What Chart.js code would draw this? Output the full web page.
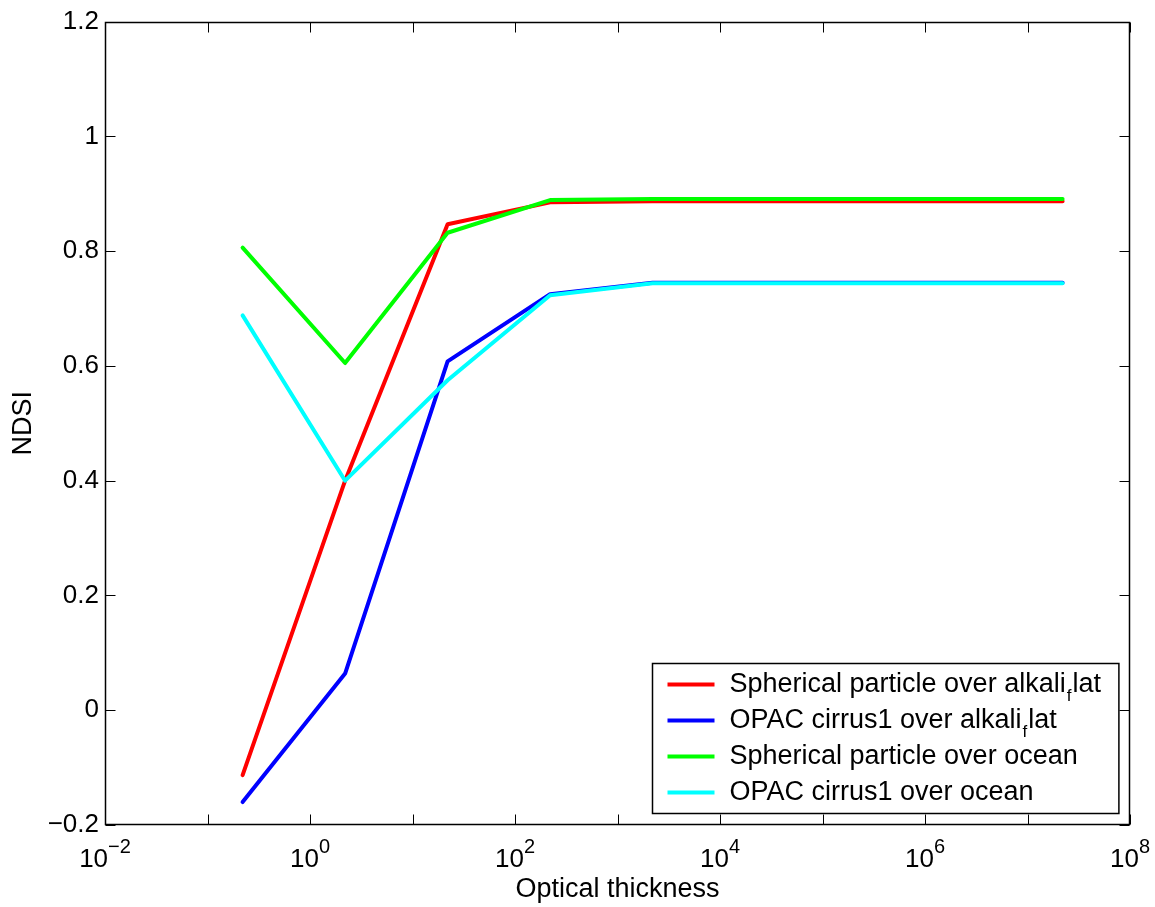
<!DOCTYPE html>
<html>
<head>
<meta charset="utf-8">
<script src="https://cdn.jsdelivr.net/npm/chart.js@4/dist/chart.umd.min.js"></script>
<style>
  html, body { margin: 0; padding: 0; background: #fff; }
  #wrap { width: 1155px; height: 907px; }
</style>
</head>
<body>
<div id="wrap"><canvas id="c" width="1155" height="907"></canvas></div>
<script>
// ---- data ----
const opticalThickness = [0.22, 2.2, 22, 220, 2200, 22000, 220000, 2200000, 22000000];
const sphericalAlkali = [-0.113, 0.400, 0.847, 0.885, 0.887, 0.887, 0.887, 0.887, 0.887];
const opacAlkali      = [-0.160, 0.064, 0.608, 0.725, 0.745, 0.745, 0.745, 0.745, 0.745];
const sphericalOcean  = [0.806, 0.605, 0.832, 0.889, 0.891, 0.891, 0.891, 0.891, 0.891];
const opacOcean       = [0.688, 0.400, 0.575, 0.723, 0.744, 0.744, 0.744, 0.744, 0.744];
const seriesNames = [
  'Spherical particle over alkali_flat',
  'OPAC cirrus1 over alkali_flat',
  'Spherical particle over ocean',
  'OPAC cirrus1 over ocean'
];
const seriesColors = ['#ff0000', '#0000ff', '#00ff00', '#00ffff'];
const xTickExponents = [-2, 0, 2, 4, 6, 8];
const yTickValues = [-0.2, 0, 0.2, 0.4, 0.6, 0.8, 1.0, 1.2];
const xTitle = 'Optical thickness';
const yTitle = 'NDSI';

const FONT = "'Liberation Sans', Arial, Helvetica, sans-serif";
const seriesValues = [sphericalAlkali, opacAlkali, sphericalOcean, opacOcean];

function fmtY(v) {
  const r = Math.round(v * 10) / 10;
  if (r === 0) return '0';
  const s = String(Math.abs(r));
  return (r < 0 ? '\u2212' : '') + s;
}

const SUB_SCALE = 0.63, SUB_DROP = 0.44;
// Draw TeX-like text where "_c" makes c a subscript
function drawTex(ctx, text, x, y, size) {
  let cx = x;
  let i = 0;
  while (i < text.length) {
    if (text[i] === '_' && i + 1 < text.length) {
      ctx.font = Math.round(size * SUB_SCALE) + 'px ' + FONT;
      ctx.fillText(text[i + 1], cx + 1, y + size * SUB_DROP);
      cx += ctx.measureText(text[i + 1]).width + 2;
      i += 2;
    } else {
      let j = i;
      while (j < text.length && text[j] !== '_') j++;
      const chunk = text.slice(i, j);
      ctx.font = size + 'px ' + FONT;
      ctx.fillText(chunk, cx, y);
      cx += ctx.measureText(chunk).width;
      i = j;
    }
  }
  return cx - x;
}
function measureTex(ctx, text, size) {
  let w = 0, i = 0;
  while (i < text.length) {
    if (text[i] === '_' && i + 1 < text.length) {
      ctx.font = Math.round(size * SUB_SCALE) + 'px ' + FONT;
      w += ctx.measureText(text[i + 1]).width + 2;
      i += 2;
    } else {
      let j = i;
      while (j < text.length && text[j] !== '_') j++;
      ctx.font = size + 'px ' + FONT;
      w += ctx.measureText(text.slice(i, j)).width;
      i = j;
    }
  }
  return w;
}

const matlabAxes = {
  id: 'matlabAxes',
  afterDraw(chart) {
    const ctx = chart.ctx;
    const a = chart.chartArea;
    const xs = chart.scales.x, ys = chart.scales.y;
    ctx.save();
    ctx.strokeStyle = '#000';
    ctx.lineWidth = 1.5;
    // box
    const L = Math.round(a.left) + 0.5, R = Math.round(a.right) - 0.5;
    const T = Math.round(a.top) + 0.5, B = Math.round(a.bottom) - 0.5;
    ctx.beginPath();
    ctx.rect(L, T, R - L, B - T);
    ctx.stroke();
    ctx.lineWidth = 1;
    const tl = 10;
    // y ticks (inward, both sides)
    ctx.beginPath();
    yTickValues.forEach(v => {
      const py = Math.round(ys.getPixelForValue(v)) + 0.5;
      ctx.moveTo(L, py); ctx.lineTo(L + tl, py);
      ctx.moveTo(R, py); ctx.lineTo(R - tl, py);
    });
    // x ticks at each decade
    for (let e = xTickExponents[0]; e <= xTickExponents[xTickExponents.length - 1]; e++) {
      const px = Math.round(xs.getPixelForValue(Math.pow(10, e))) + 0.5;
      ctx.moveTo(px, B); ctx.lineTo(px, B - tl);
      ctx.moveTo(px, T); ctx.lineTo(px, T + tl);
    }
    ctx.stroke();

    // x tick labels 10^e
    ctx.fillStyle = '#000';
    ctx.textBaseline = 'alphabetic';
    ctx.textAlign = 'left';
    const baseSize = 26, expSize = 20;
    xTickExponents.forEach(e => {
      const px = xs.getPixelForValue(Math.pow(10, e));
      const base = '10';
      const ex = e < 0 ? '\u2212' + Math.abs(e) : String(e);
      ctx.font = baseSize + 'px ' + FONT;
      const wb = ctx.measureText(base).width;
      ctx.font = expSize + 'px ' + FONT;
      const we = ctx.measureText(ex).width;
      const x0 = px - (wb + we) / 2;
      const by = B + 42;
      ctx.font = baseSize + 'px ' + FONT;
      ctx.fillText(base, x0, by);
      ctx.font = expSize + 'px ' + FONT;
      ctx.fillText(ex, x0 + wb, by - 14);
    });

    // legend
    const lsize = 27;
    let maxW = 0;
    seriesNames.forEach(n => { maxW = Math.max(maxW, measureTex(ctx, n, lsize)); });
    const boxW = 77 + maxW + 18;
    const boxH = 150;
    const bx = Math.round(a.right - 12 - boxW) + 0.5;
    const by0 = Math.round(a.bottom - 12 - boxH) + 0.5;
    ctx.fillStyle = '#fff';
    ctx.fillRect(bx, by0, boxW, boxH);
    ctx.strokeStyle = '#000';
    ctx.lineWidth = 1.5;
    ctx.strokeRect(bx, by0, boxW, boxH);
    seriesNames.forEach((n, i) => {
      const cy = by0 + 21 + i * 36;
      ctx.strokeStyle = seriesColors[i];
      ctx.lineWidth = 4;
      ctx.beginPath();
      ctx.moveTo(bx + 15, cy); ctx.lineTo(bx + 62, cy);
      ctx.stroke();
      ctx.fillStyle = '#000';
      ctx.textBaseline = 'middle';
      drawTex(ctx, n, bx + 77, cy, lsize);
    });
    ctx.restore();
  }
};

const datasets = seriesValues.map((vals, i) => ({
  label: seriesNames[i],
  data: opticalThickness.map((x, k) => ({ x: x, y: vals[k] })),
  borderColor: seriesColors[i],
  backgroundColor: seriesColors[i],
  borderWidth: 4,
  pointRadius: 0,
  tension: 0,
  fill: false,
  order: seriesValues.length - 1 - i,
  borderCapStyle: 'round',
  borderJoinStyle: 'round'
}));

new Chart(document.getElementById('c'), {
  type: 'line',
  data: { datasets: datasets },
  options: {
    responsive: false,
    animation: false,
    events: [],
    layout: { padding: { top: 18, right: 25, left: 0, bottom: 0 } },
    plugins: { legend: { display: false }, tooltip: { enabled: false } },
    scales: {
      x: {
        type: 'logarithmic',
        min: 0.01, max: 1e8,
        grid: { display: false, drawTicks: false },
        border: { display: false },
        ticks: { display: false },
        title: { display: true, text: xTitle, color: '#000', font: { family: FONT, size: 27 }, padding: { top: 0, bottom: 1 } },
        afterFit: s => { s.height = 82; }
      },
      y: {
        type: 'linear',
        min: -0.2, max: 1.2,
        grid: { display: false, drawTicks: false },
        border: { display: false },
        afterBuildTicks: s => { s.ticks = yTickValues.map(v => ({ value: v })); },
        ticks: { color: '#000', font: { family: FONT, size: 26 }, padding: 6, callback: v => fmtY(v) },
        title: { display: true, text: yTitle, color: '#000', font: { family: FONT, size: 27 }, padding: { top: 7, bottom: 0 } },
        afterFit: s => { s.width = 105; }
      }
    }
  },
  plugins: [matlabAxes]
});
</script>
</body>
</html>
